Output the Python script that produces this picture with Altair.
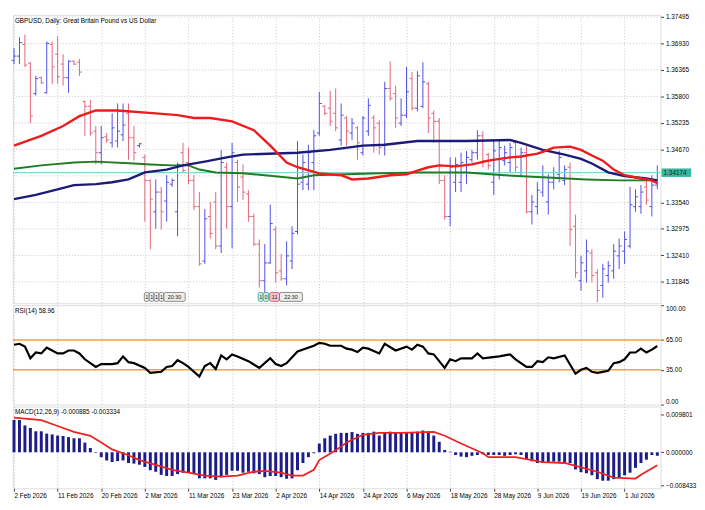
import json
import altair as alt
import pandas as pd

# ---------------- data ----------------
chart_title = "GBPUSD, Daily:  Great Britain Pound vs US Dollar"
rsi_title = "RSI(14) 58.96"
macd_title = "MACD(12,26,9) -0.000885 -0.003334"

bar_open = [1.3657, 1.3666, 1.3691, 1.3651, 1.3586, 1.3620, 1.3588, 1.3691, 1.3670, 1.3649,
            1.3620, 1.3655, 1.3653, 1.3569, 1.3559, 1.3506, 1.3460, 1.3494, 1.3481, 1.3485,
            1.3498, 1.3544, 1.3492, 1.3475, 1.3450, 1.3401, 1.3334, 1.3376, 1.3357, 1.3393,
            1.3334, 1.3460, 1.3439, 1.3401, 1.3345, 1.3229, 1.3324, 1.3355, 1.3261, 1.3429,
            1.3345, 1.3439, 1.3408, 1.3372, 1.3324, 1.3265, 1.3187, 1.3225, 1.3296, 1.3208,
            1.3191, 1.3229, 1.3292, 1.3397, 1.3393, 1.3439, 1.3502, 1.3559, 1.3555, 1.3544,
            1.3487, 1.3534, 1.3502, 1.3513, 1.3460, 1.3506, 1.3534, 1.3523, 1.3475, 1.3597,
            1.3586, 1.3523, 1.3540, 1.3618, 1.3555, 1.3559, 1.3607, 1.3544, 1.3527, 1.3401,
            1.3324, 1.3397, 1.3397, 1.3418, 1.3445, 1.3460, 1.3496, 1.3456, 1.3397, 1.3418,
            1.3443, 1.3439, 1.3481, 1.3418, 1.3460, 1.3334, 1.3345, 1.3376, 1.3355, 1.3397,
            1.3414, 1.3401, 1.3429, 1.3303, 1.3187, 1.3208, 1.3246, 1.3204, 1.3177, 1.3198,
            1.3208, 1.3240, 1.3250, 1.3261, 1.3345, 1.3345, 1.3387, 1.3345, 1.3391]
bar_high = [1.3683, 1.3706, 1.3712, 1.3653, 1.3624, 1.3622, 1.3697, 1.3697, 1.3708, 1.3670,
            1.3657, 1.3657, 1.3660, 1.3571, 1.3573, 1.3517, 1.3517, 1.3502, 1.3544, 1.3565,
            1.3565, 1.3565, 1.3517, 1.3481, 1.3456, 1.3403, 1.3403, 1.3387, 1.3412, 1.3405,
            1.3439, 1.3481, 1.3471, 1.3412, 1.3376, 1.3340, 1.3355, 1.3376, 1.3466, 1.3439,
            1.3481, 1.3445, 1.3435, 1.3380, 1.3330, 1.3275, 1.3265, 1.3349, 1.3303, 1.3244,
            1.3271, 1.3303, 1.3485, 1.3456, 1.3477, 1.3508, 1.3590, 1.3561, 1.3592, 1.3597,
            1.3565, 1.3538, 1.3534, 1.3517, 1.3538, 1.3576, 1.3540, 1.3529, 1.3611, 1.3655,
            1.3603, 1.3576, 1.3643, 1.3632, 1.3634, 1.3653, 1.3611, 1.3550, 1.3534, 1.3412,
            1.3450, 1.3450, 1.3460, 1.3464, 1.3466, 1.3508, 1.3506, 1.3460, 1.3487, 1.3487,
            1.3475, 1.3481, 1.3487, 1.3471, 1.3475, 1.3370, 1.3397, 1.3433, 1.3414, 1.3429,
            1.3464, 1.3433, 1.3439, 1.3328, 1.3240, 1.3275, 1.3254, 1.3212, 1.3223, 1.3229,
            1.3265, 1.3277, 1.3292, 1.3387, 1.3382, 1.3391, 1.3403, 1.3412, 1.3433]
bar_low = [1.3649, 1.3649, 1.3643, 1.3523, 1.3582, 1.3607, 1.3586, 1.3607, 1.3607, 1.3603,
           1.3588, 1.3647, 1.3624, 1.3496, 1.3496, 1.3435, 1.3435, 1.3481, 1.3471, 1.3471,
           1.3485, 1.3445, 1.3443, 1.3471, 1.3313, 1.3254, 1.3298, 1.3296, 1.3313, 1.3387,
           1.3282, 1.3418, 1.3393, 1.3338, 1.3219, 1.3223, 1.3277, 1.3254, 1.3246, 1.3298,
           1.3256, 1.3355, 1.3359, 1.3313, 1.3261, 1.3172, 1.3160, 1.3223, 1.3183, 1.3187,
           1.3177, 1.3212, 1.3286, 1.3380, 1.3380, 1.3380, 1.3496, 1.3540, 1.3517, 1.3506,
           1.3475, 1.3475, 1.3487, 1.3445, 1.3454, 1.3496, 1.3460, 1.3456, 1.3454, 1.3571,
           1.3513, 1.3517, 1.3534, 1.3550, 1.3548, 1.3555, 1.3502, 1.3481, 1.3393, 1.3317,
           1.3303, 1.3376, 1.3376, 1.3393, 1.3439, 1.3445, 1.3429, 1.3424, 1.3370, 1.3403,
           1.3433, 1.3418, 1.3418, 1.3408, 1.3330, 1.3307, 1.3328, 1.3366, 1.3328, 1.3382,
           1.3397, 1.3391, 1.3261, 1.3193, 1.3166, 1.3183, 1.3183, 1.3141, 1.3151, 1.3183,
           1.3191, 1.3212, 1.3223, 1.3256, 1.3334, 1.3330, 1.3349, 1.3324, 1.3382]
bar_close = [1.3666, 1.3695, 1.3647, 1.3538, 1.3618, 1.3609, 1.3693, 1.3643, 1.3622, 1.3620,
             1.3655, 1.3649, 1.3632, 1.3559, 1.3502, 1.3460, 1.3492, 1.3487, 1.3513, 1.3506,
             1.3519, 1.3492, 1.3460, 1.3479, 1.3401, 1.3361, 1.3376, 1.3334, 1.3397, 1.3401,
             1.3435, 1.3422, 1.3401, 1.3345, 1.3223, 1.3319, 1.3288, 1.3261, 1.3439, 1.3345,
             1.3460, 1.3387, 1.3376, 1.3324, 1.3265, 1.3187, 1.3225, 1.3309, 1.3204, 1.3191,
             1.3240, 1.3288, 1.3393, 1.3439, 1.3460, 1.3496, 1.3565, 1.3544, 1.3527, 1.3513,
             1.3540, 1.3506, 1.3523, 1.3481, 1.3534, 1.3561, 1.3513, 1.3471, 1.3597, 1.3576,
             1.3534, 1.3540, 1.3590, 1.3555, 1.3624, 1.3611, 1.3534, 1.3527, 1.3401, 1.3324,
             1.3429, 1.3435, 1.3439, 1.3450, 1.3460, 1.3496, 1.3443, 1.3433, 1.3464, 1.3471,
             1.3460, 1.3471, 1.3429, 1.3460, 1.3334, 1.3355, 1.3380, 1.3408, 1.3397, 1.3418,
             1.3450, 1.3424, 1.3296, 1.3204, 1.3225, 1.3250, 1.3198, 1.3166, 1.3212, 1.3219,
             1.3250, 1.3261, 1.3275, 1.3349, 1.3366, 1.3376, 1.3359, 1.3391, 1.34174]

current_price = 1.34174

red_ma_idx = [0, 5, 9, 12, 15, 19, 26, 30, 33, 36, 40, 44, 47, 50, 52, 56, 60, 62, 65, 69,
              72, 74, 76, 78, 81, 84, 87, 91, 93, 96, 97, 99, 102, 104, 106, 108, 110, 112, 115, 117, 118]
red_ma_val = [1.3475, 1.3496, 1.3517, 1.3538, 1.3550, 1.3550, 1.3544, 1.3540, 1.3534, 1.3534,
              1.3527, 1.3508, 1.3475, 1.3439, 1.3429, 1.3416, 1.3412, 1.3403, 1.3405, 1.3412,
              1.3414, 1.3422, 1.3429, 1.3433, 1.3431, 1.3435, 1.3443, 1.3450, 1.3452, 1.3458,
              1.3462, 1.3471, 1.3473, 1.3466, 1.3454, 1.3443, 1.3424, 1.3412, 1.3405, 1.3401, 1.3395]

navy_ma_idx = [0, 4, 8, 11, 15, 18, 21, 24, 28, 31, 35, 39, 42, 52, 58, 64, 68, 74, 83, 91,
               93, 97, 101, 104, 106, 109, 112, 116, 118]
navy_ma_val = [1.3361, 1.3370, 1.3382, 1.3391, 1.3393, 1.3397, 1.3403, 1.3418, 1.3424, 1.3433,
               1.3441, 1.3450, 1.3456, 1.3460, 1.3466, 1.3475, 1.3477, 1.3485, 1.3485, 1.3487,
               1.3481, 1.3466, 1.3456, 1.3447, 1.3437, 1.3418, 1.3410, 1.3405, 1.3401]

green_ma_idx = [0, 5, 11, 15, 22, 25, 29, 32, 34, 37, 42, 46, 52, 55, 61, 67, 74, 83, 90, 96, 105, 111, 118]
green_ma_val = [1.3426, 1.3433, 1.3439, 1.3441, 1.3437, 1.3435, 1.3433, 1.3433, 1.3424, 1.3418,
                1.3416, 1.3412, 1.3405, 1.3412, 1.3414, 1.3416, 1.3418, 1.3418, 1.3412, 1.3408,
                1.3403, 1.3401, 1.3401]

rsi_idx = [0, 1, 2, 3, 4, 5, 6, 7, 8, 9, 10, 11, 12, 13, 15, 16, 17, 18, 19, 20,
           21, 22, 24, 25, 27, 28, 29, 30, 31, 32, 34, 35, 36, 37, 38, 39, 40, 41, 43, 45,
           47, 48, 49, 50, 52, 55, 56, 57, 58, 60, 61, 62, 63, 64, 65, 67, 68, 70, 72, 73,
           74, 75, 76, 77, 79, 80, 81, 82, 84, 85, 86, 89, 91, 92, 94, 95, 96, 97, 98, 99,
           101, 103, 104, 105, 106, 107, 108, 109, 110, 111, 112, 113, 114, 115, 116, 117, 118]
rsi_val = [60.2, 61.2, 58.3, 46.6, 52.4, 51.5, 57.3, 54.4, 51.5, 51.5, 54.4, 54.4, 51.5, 45.6, 37.9, 40.8, 40.8, 40.8, 41.7, 48.5,
           42.7, 41.7, 36.9, 32.0, 33.0, 37.9, 38.8, 44.7, 41.7, 37.9, 28.2, 38.8, 41.7, 35.9, 49.5, 45.6, 50.5, 48.5, 43.7, 36.9,
           46.6, 40.8, 38.8, 41.7, 53.4, 59.2, 62.1, 61.2, 59.2, 59.2, 56.3, 55.3, 52.9, 57.3, 56.3, 51.5, 61.2, 54.4, 58.3, 55.3,
           60.2, 58.3, 51.5, 50.5, 36.9, 45.6, 43.7, 46.6, 46.6, 51.5, 46.6, 48.5, 50.5, 45.6, 37.9, 37.9, 43.7, 42.7, 47.6, 46.6,
           49.5, 31.1, 35.0, 36.9, 33.0, 32.0, 33.0, 34.0, 41.7, 42.7, 45.6, 52.4, 52.4, 56.3, 52.4, 55.3, 58.96]
rsi_levels = [65, 35]

macd_hist = [0.0083, 0.0083, 0.0069, 0.00625, 0.0054, 0.0054, 0.0048, 0.0046, 0.0043, 0.0042,
             0.0039, 0.0036, 0.0036, 0.0025, 0.0011, -0.00015, -0.00125, -0.0021, -0.0025, -0.00225,
             -0.0021, -0.00275, -0.0029, -0.0032, -0.00375, -0.0046, -0.005, -0.0058, -0.0061, -0.0061,
             -0.0056, -0.00525, -0.00525, -0.0056, -0.0067, -0.0067, -0.0067, -0.0071, -0.0064, -0.0058,
             -0.00475, -0.00475, -0.00525, -0.005, -0.0054, -0.0056, -0.0064, -0.0061, -0.0061, -0.0064,
             -0.0068, -0.0067, -0.0046, -0.00275, -0.00125, -0.00025, 0.00225, 0.0036, 0.0043, 0.00475,
             0.005, 0.005, 0.0052, 0.00475, 0.005, 0.005, 0.0053, 0.0043, 0.0052, 0.0053,
             0.0052, 0.0052, 0.0052, 0.0052, 0.0053, 0.0056, 0.0054, 0.0043, 0.0027, 0.0006,
             0.00015, -0.0007, -0.0011, -0.00125, -0.0009, -0.0007, -0.0005, -0.0007, -0.0007, -0.0007,
             -0.0009, -0.0007, -0.0005, -0.0007, -0.0019, -0.0023, -0.00275, -0.00275, -0.0026, -0.0024,
             -0.0024, -0.0026, -0.00275, -0.0044, -0.0051, -0.0054, -0.0059, -0.0069, -0.0073, -0.0073,
             -0.0069, -0.0065, -0.0059, -0.00525, -0.004, -0.00275, -0.0019, -0.0007, -0.000885]

signal_idx = [0, 5, 8, 11, 14, 16, 18, 21, 23, 26, 29, 32, 35, 38, 41, 44, 46, 49, 51, 53,
              55, 56, 59, 61, 64, 67, 71, 77, 79, 82, 86, 87, 92, 94, 97, 101, 103, 107, 110, 114, 115, 118]
signal_val = [0.0089, 0.00825, 0.00675, 0.00525, 0.00425, 0.0025, 0.00075, -0.00075, -0.002, -0.00325,
              -0.0045, -0.00525, -0.006, -0.00625, -0.006, -0.005, -0.00475, -0.00525, -0.006, -0.006,
              -0.0045, -0.002, 0.0005, 0.0025, 0.0045, 0.005, 0.005, 0.00525, 0.00425, 0.00225,
              -0.00025, -0.00125, -0.00125, -0.00175, -0.0025, -0.00275, -0.0035, -0.005, -0.0065, -0.00675,
              -0.00575, -0.003334]

date_labels = ["2 Feb 2026", "11 Feb 2026", "20 Feb 2026", "2 Mar 2026", "11 Mar 2026",
               "23 Mar 2026", "2 Apr 2026", "14 Apr 2026", "24 Apr 2026", "6 May 2026",
               "18 May 2026", "28 May 2026", "9 Jun 2026", "19 Jun 2026", "1 Jul 2026"]
date_ticks = [0, 8, 16, 24, 32, 40, 48, 56, 64, 72, 80, 88, 96, 104, 112]

# 1.34105 sits under the current-price box, so only its grid line is kept
price_ticks = [1.37495, 1.36930, 1.36365, 1.35800, 1.35235, 1.34670,
               1.33540, 1.32975, 1.32410, 1.31845]
price_grid = [1.37495, 1.36930, 1.36365, 1.35800, 1.35235, 1.34670, 1.34105,
              1.33540, 1.32975, 1.32410, 1.31845]
rsi_ticks = [0, 35, 65, 100]
macd_ticks = [-0.008433, 0.0, 0.009801]

marker_text = ["1", "1", "1", "1", "20:30", "1", "0", "11", "22:30"]
marker_from = [23.9, 24.8, 25.7, 26.6, 27.5, 44.8, 45.7, 46.9, 48.7]
marker_to = [24.8, 25.7, 26.6, 27.5, 31.4, 45.7, 46.7, 48.7, 52.9]
marker_kind = ["g", "g", "g", "g", "g", "t", "t", "r", "g"]
marker_top = 1.3162
marker_bottom = 1.3143

# ---------------- styling ----------------
W = 658
H_MAIN, H_RSI, H_MACD = 293, 101, 83
FONT = "Liberation Sans"
FS = 6.5
UP, DOWN = "#4f4fe6", "#e2647a"

x_scale = alt.Scale(domain=[-0.2, 118.6], nice=False, zero=False)
grid_kw = dict(gridColor="#c9c9c9", gridDash=[1, 2], gridWidth=1)
x_axis_plain = alt.Axis(values=date_ticks, labels=False, ticks=False, domain=False,
                        grid=True, title=None, **grid_kw)
label_expr = json.dumps(date_labels) + "[round(datum.value / 8)]"
x_axis_dates = alt.Axis(values=date_ticks, labelExpr=label_expr, labelAlign="left",
                        labelFont=FONT, labelFontSize=FS, labelColor="#000", labelPadding=1,
                        tickSize=3, tickColor="#444", domain=False, grid=True, title=None,
                        labelOverlap=False, **grid_kw)

y_main_scale = alt.Scale(domain=[1.3139, 1.3754], nice=False, zero=False)
y_main_axis = alt.Axis(orient="right", values=price_ticks, format=".5f", labelFont=FONT,
                       labelFontSize=FS, labelColor="#000", tickSize=3, tickColor="#444",
                       labelPadding=2, domain=False, grid=False, title=None)

rsi_scale = alt.Scale(domain=[0, 100], nice=False, zero=False)
rsi_axis = alt.Axis(orient="right", values=rsi_ticks, format=".2f", labelFont=FONT,
                    labelFontSize=FS, labelColor="#000", tickSize=3, tickColor="#444",
                    labelPadding=2, labelFlush=True, domain=False, grid=False, title=None)

macd_scale = alt.Scale(domain=[-0.00925, 0.01175], nice=False, zero=False)
macd_axis = alt.Axis(orient="right", values=macd_ticks, format=".6f", labelFont=FONT,
                     labelFontSize=FS, labelColor="#000", tickSize=3, tickColor="#444",
                     labelPadding=2, domain=False, grid=False, title=None)

# ---------------- tables ----------------
n = len(bar_open)
bars_df = pd.DataFrame({"i": list(range(n)), "open": bar_open, "high": bar_high,
                        "low": bar_low, "close": bar_close})
bars_df["dir"] = ["up" if c >= o else "down" for o, c in zip(bar_open, bar_close)]

dir_color = alt.Color("dir:N", scale=alt.Scale(domain=["up", "down"], range=[UP, DOWN]), legend=None)


def xm(field):
    return alt.X(field, scale=x_scale, axis=x_axis_plain)


def ym(field):
    return alt.Y(field, scale=y_main_scale, axis=y_main_axis)


# horizontal dotted price grid (drawn as rules so that the hidden 1.34105 level keeps its line)
grid_df = pd.DataFrame({"g": price_grid})
price_gridlines = alt.Chart(grid_df).mark_rule(color="#c9c9c9", strokeDash=[1, 2], strokeWidth=1).encode(
    y=ym("g:Q"))

bars_base = alt.Chart(bars_df).transform_calculate(xl="datum.i - 0.45", xr="datum.i + 0.45")
hl = bars_base.mark_rule(strokeWidth=1).encode(x=xm("i:Q"), y=ym("low:Q"), y2="high:Q", color=dir_color)
op = bars_base.mark_rule(strokeWidth=1).encode(x=xm("xl:Q"), x2="i:Q", y=ym("open:Q"), color=dir_color)
cl = bars_base.mark_rule(strokeWidth=1).encode(x=xm("i:Q"), x2="xr:Q", y=ym("close:Q"), color=dir_color)


def ma_line(idx, val, color, width):
    return alt.Chart(pd.DataFrame({"i": idx, "v": val})).mark_line(
        color=color, strokeWidth=width).encode(x=xm("i:Q"), y=ym("v:Q"))


price_df = pd.DataFrame({"p": [current_price]})
bid_line = alt.Chart(price_df).mark_rule(color="#88d4ca", strokeWidth=1.3).encode(y=ym("p:Q"))
bid_box = alt.Chart(price_df).transform_calculate(
    top="datum.p + 0.0009", bot="datum.p - 0.0009").mark_rect(
    color="#34b89f", clip=False).encode(x=alt.value(W + 1), x2=alt.value(W + 31), y=ym("top:Q"), y2="bot:Q")
bid_text = alt.Chart(price_df).mark_text(
    align="left", baseline="middle", font=FONT, fontSize=FS, color="#102820", clip=False).encode(
    x=alt.value(W + 3), y=ym("p:Q"), text=alt.Text("p:Q", format=".5f"))

mk_df = pd.DataFrame({"t": marker_text, "a": marker_from, "b": marker_to, "k": marker_kind})
mk_df["top"] = marker_top
mk_df["bot"] = marker_bottom
mk_fill = alt.Color("k:N", scale=alt.Scale(domain=["g", "t", "r"],
                                           range=["#ececec", "#cdeee6", "#f5c4cb"]), legend=None)
mk_stroke = alt.Stroke("k:N", scale=alt.Scale(domain=["g", "t", "r"],
                                              range=["#707070", "#2f9c88", "#c84a5a"]), legend=None)
mk_rect = alt.Chart(mk_df).mark_rect(strokeWidth=0.8, cornerRadius=1.5).encode(
    x=xm("a:Q"), x2="b:Q", y=ym("top:Q"), y2="bot:Q", fill=mk_fill, stroke=mk_stroke)
mk_text = alt.Chart(mk_df).transform_calculate(mid="(datum.a + datum.b) / 2", ym="(datum.top + datum.bot) / 2").mark_text(
    font=FONT, fontSize=5.5, color="#222", baseline="middle").encode(x=xm("mid:Q"), y=ym("ym:Q"), text="t:N")


def label(txt):
    return alt.Chart(pd.DataFrame({"t": [txt]})).mark_text(
        align="left", baseline="top", font=FONT, fontSize=FS, color="#000").encode(
        x=alt.value(2), y=alt.value(3), text="t:N")


main = alt.layer(
    price_gridlines, hl, op, cl, bid_line,
    ma_line(green_ma_idx, green_ma_val, "#1f7d24", 2.0),
    ma_line(navy_ma_idx, navy_ma_val, "#1c1c78", 2.4),
    ma_line(red_ma_idx, red_ma_val, "#ee1c1c", 2.4),
    mk_rect, mk_text, bid_box, bid_text, label(chart_title),
).properties(width=W, height=H_MAIN)

rsi_df = pd.DataFrame({"i": rsi_idx, "r": rsi_val})
lvl_df = pd.DataFrame({"l": rsi_levels})
rsi_panel = alt.layer(
    alt.Chart(lvl_df).mark_rule(color="#f2a23a", strokeWidth=1.5).encode(
        y=alt.Y("l:Q", scale=rsi_scale, axis=rsi_axis)),
    alt.Chart(rsi_df).mark_line(color="#000", strokeWidth=2.2).encode(
        x=alt.X("i:Q", scale=x_scale, axis=x_axis_plain),
        y=alt.Y("r:Q", scale=rsi_scale, axis=rsi_axis)),
    label(rsi_title),
).properties(width=W, height=H_RSI)

macd_df = pd.DataFrame({"i": list(range(len(macd_hist))), "h": macd_hist})
sig_df = pd.DataFrame({"i": signal_idx, "s": signal_val})
macd_panel = alt.layer(
    alt.Chart(macd_df).transform_calculate(zero="0").mark_rule(color="#1c1c8a", strokeWidth=3).encode(
        x=alt.X("i:Q", scale=x_scale, axis=x_axis_dates),
        y=alt.Y("h:Q", scale=macd_scale, axis=macd_axis), y2="zero:Q"),
    alt.Chart(sig_df).mark_line(color="#ee2222", strokeWidth=1.8).encode(
        x=alt.X("i:Q", scale=x_scale, axis=x_axis_dates),
        y=alt.Y("s:Q", scale=macd_scale, axis=macd_axis)),
    label(macd_title),
).properties(width=W, height=H_MACD)

chart = alt.vconcat(main, rsi_panel, macd_panel, spacing=2, bounds="flush").properties(
    padding={"left": 0, "top": 1, "right": 0, "bottom": 0}
).configure_view(stroke="#7a7a7a", strokeWidth=1).configure(background="white")

chart.save("out.html", embed_options={"renderer": "svg", "actions": False})
